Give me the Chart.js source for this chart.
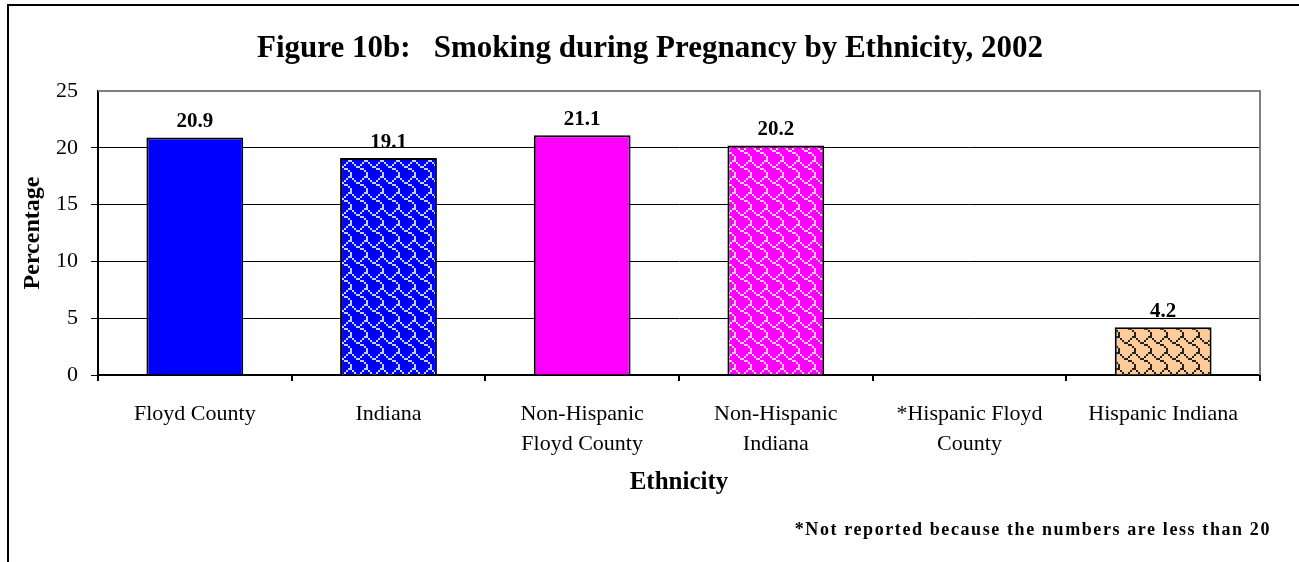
<!DOCTYPE html>
<html>
<head>
<meta charset="utf-8">
<script src="https://cdn.jsdelivr.net/npm/chart.js@4.4.1/dist/chart.umd.min.js"></script>
<style>
  html, body { margin: 0; padding: 0; background: #fff; overflow: hidden; }
  #frame { position: absolute; left: 7px; top: 4px; width: 1400px; height: 700px;
           border-left: 2px solid #000; border-top: 2px solid #000; }
  #wrap { position: absolute; left: 0; top: 0; width: 1299px; height: 562px; }
</style>
</head>
<body>
<div id="frame"></div>
<div id="wrap"><canvas id="chart"></canvas></div>
<script>
const categories = [
  ["Floyd County"],
  ["Indiana"],
  ["Non-Hispanic", "Floyd County"],
  ["Non-Hispanic", "Indiana"],
  ["*Hispanic Floyd", "County"],
  ["Hispanic Indiana"],
];
// Hispanic Floyd County is not reported (fewer than 20 births)
const percentages = [20.9, 19.1, 21.1, 20.2, null, 4.2];
const yTicks = [0, 5, 10, 15, 20, 25];

const SERIF = '"Times New Roman", "Liberation Serif", serif';

// 8x8 shingle hatch, drawn at 2px per bit
const SHINGLE = [0x03, 0x84, 0x48, 0x30, 0x0C, 0x02, 0x01, 0x01];
function shingle(bg, fg) {
  const c = document.createElement("canvas");
  c.width = 16; c.height = 16;
  const g = c.getContext("2d");
  g.fillStyle = bg;
  g.fillRect(0, 0, 16, 16);
  g.fillStyle = fg;
  SHINGLE.forEach((row, y) => {
    for (let x = 0; x < 8; x++) {
      if (row & (0x80 >> x)) g.fillRect(x * 2, y * 2, 2, 2);
    }
  });
  return g.createPattern(c, "repeat");
}

const fills = [
  "#0000ff",
  shingle("#0000ff", "#c8d0ff"),
  "#ff00ff",
  shingle("#ff00ff", "#ffd0ff"),
  "#ffffff",
  shingle("#ffcc99", "#222222"),
];

// heading sits centred on the page, above the plot
const heading = {
  id: "heading",
  afterDraw(chart) {
    const { ctx } = chart;
    ctx.save();
    ctx.font = `bold 31px ${SERIF}`;
    ctx.fillStyle = "#000";
    ctx.textAlign = "center";
    ctx.textBaseline = "middle";
    ctx.fillText("Figure 10b:   Smoking during Pregnancy by Ethnicity, 2002", 650, 49);
    ctx.restore();
  },
};

const barLabels = {
  id: "barLabels",
  afterDatasetsDraw(chart) {
    const { ctx } = chart;
    const meta = chart.getDatasetMeta(0);
    ctx.save();
    ctx.font = `bold 21px ${SERIF}`;
    ctx.fillStyle = "#000";
    ctx.textAlign = "center";
    ctx.textBaseline = "bottom";
    meta.data.forEach((bar, i) => {
      const v = percentages[i];
      if (v == null) return;
      ctx.fillText(v.toFixed(1), bar.x, bar.y - 5);
    });
    ctx.restore();
  },
};

const plotFrame = {
  id: "plotFrame",
  beforeDatasetsDraw(chart) {
    const { ctx, chartArea: a } = chart;
    ctx.save();
    ctx.strokeStyle = "#808080";
    ctx.lineWidth = 2;
    ctx.beginPath();
    ctx.moveTo(a.left, a.top);
    ctx.lineTo(a.right, a.top);
    ctx.lineTo(a.right, a.bottom);
    ctx.stroke();
    ctx.restore();
  },
};

const footnote = {
  id: "footnote",
  afterDraw(chart) {
    const { ctx } = chart;
    ctx.save();
    ctx.font = `bold 18px ${SERIF}`;
    ctx.letterSpacing = "1.6px";
    ctx.fillStyle = "#000";
    ctx.textAlign = "right";
    ctx.textBaseline = "middle";
    ctx.fillText("*Not reported because the numbers are less than 20", 1271, 530);
    ctx.restore();
  },
};

new Chart(document.getElementById("chart"), {
  type: "bar",
  data: {
    labels: categories,
    datasets: [{
      data: percentages,
      backgroundColor: fills,
      borderColor: "#000",
      borderWidth: 2,
      borderSkipped: "bottom",
      categoryPercentage: 1,
      barPercentage: 0.5,
    }],
  },
  options: {
    responsive: true,
    maintainAspectRatio: false,
    animation: false,
    layout: { padding: { left: 10, right: 39, top: 91, bottom: 40 } },
    plugins: {
      legend: { display: false },
      tooltip: { enabled: false },
      title: { display: false },
    },
    scales: {
      x: {
        grid: { display: true, drawOnChartArea: false, drawTicks: true, tickLength: 6, color: "#000", lineWidth: 2 },
        border: { color: "#000", width: 2 },
        ticks: {
          color: "#000",
          padding: 18,
          maxRotation: 0,
          autoSkip: false,
          font: { family: SERIF, size: 22, lineHeight: 1.36 },
        },
        title: {
          display: true,
          text: "Ethnicity",
          color: "#000",
          font: { family: SERIF, size: 25, weight: "bold" },
          padding: { top: 0, bottom: 24 },
        },
        afterFit: (s) => { s.height = 147; },
      },
      y: {
        min: 0,
        max: 25,
        afterBuildTicks: (s) => { s.ticks = yTicks.map((v) => ({ value: v })); },
        grid: {
          color: (c) => (c.tick && c.tick.value === 25 ? "#808080" : "#000"),
          lineWidth: (c) => (c.tick && c.tick.value === 25 ? 0 : 1),
          tickColor: "#000",
          tickLength: 7,
        },
        border: { color: "#000", width: 2 },
        ticks: {
          color: "#000",
          padding: 13,
          font: { family: SERIF, size: 22 },
        },
        title: {
          display: true,
          text: "Percentage",
          color: "#000",
          font: { family: SERIF, size: 24, weight: "bold" },
          padding: { top: 8, bottom: 0 },
        },
        afterFit: (s) => { s.width = 88; },
      },
    },
  },
  plugins: [plotFrame, barLabels, heading, footnote],
});
</script>
</body>
</html>
